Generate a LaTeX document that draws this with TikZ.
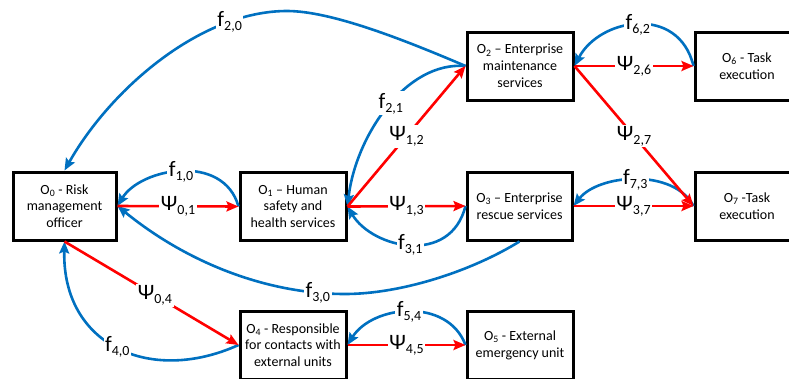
\documentclass[tikz,border=0pt]{standalone}
\usepackage{fontspec}
\setmainfont{Carlito}
\usetikzlibrary{arrows.meta}
\definecolor{fblue}{HTML}{0070C0}
\definecolor{pred}{HTML}{FF0000}
\newcommand\flab[2]{#1\raisebox{-4pt}{\fontsize{14}{14}\selectfont #2}}
\begin{document}
\begin{tikzpicture}[x=1pt,y=-1pt,
 box/.style={draw=black,line width=3pt,minimum width=106pt,minimum height=68pt,align=center,font=\fontsize{14}{16.8}\selectfont,inner sep=0pt},
 psi/.style={draw=pred,line width=2.6pt,-{Stealth[length=12pt,width=10pt,inset=2pt]}},
 fl/.style={draw=fblue,line width=2.6pt,-{Stealth[length=12pt,width=10pt,inset=2pt]}},
 lab/.style={fill=white,text=black,inner sep=1.5pt,font=\fontsize{22}{22}\selectfont},
]
\useasboundingbox (0,0) rectangle (789,378);
\clip (0,0) rectangle (789,378);

\node[box,minimum width=103pt] (O0) at (64.5,206) {O\textsubscript{0} - Risk\\management\\officer};
\node[box] (O1) at (293,206.5) {O\textsubscript{1} – Human\\safety and\\health services};
\node[box] (O2) at (520,66) {O\textsubscript{2} – Enterprise\\maintenance\\services};
\node[box,minimum width=104pt] (O6) at (747,66) {O\textsubscript{6} - Task\\execution};
\node[box,minimum width=105pt] (O3) at (519.5,206) {O\textsubscript{3} – Enterprise\\rescue services};
\node[box,minimum width=104pt] (O7) at (747,206) {O\textsubscript{7} -Task\\execution};
\node[box] (O4) at (293,345) {O\textsubscript{4} - Responsible\\for contacts with\\external units};
\node[box] (O5) at (520,345) {O\textsubscript{5} - External\\emergency unit};

\coordinate (top20) at (287,11);
\coordinate (low30) at (345,294);

% blue feedback curves
\draw[fl] (O1.west) .. controls +(-15,-54) and +(23,-38) .. node[lab]{\flab{f}{1,0}} (O0.east);
\draw[fl] (O3.west) .. controls +(-15,60) and +(25,42) .. node[lab]{\flab{f}{3,1}} (O1.east);
\draw[fl] (O6.west) .. controls +(-15,-62) and +(25,-48) .. node[lab]{\flab{f}{6,2}} (O2.east);
\draw[fl] (O7.west) .. controls +(-20,-38) and +(25,-32) .. node[lab]{\flab{f}{7,3}} (O3.east);
\draw[fl] (O5.west) .. controls +(-18,-48) and +(25,-40) .. node[lab]{\flab{f}{5,4}} (O4.east);
\draw[fl] (O2.west) .. controls +(-60,-5) and +(8,-70) .. node[lab,pos=0.47]{\flab{f}{2,1}} (O1.east);
\draw[fl] (O2.west) .. controls (400,38) and (330,11) .. (top20) .. controls (200,11) and (110,90) .. node[lab,pos=0.22]{\flab{f}{2,0}} (O0.north);
\draw[fl] (O3.south) .. controls (470,272) and (400,294) .. (low30) .. controls (270,294) and (190,265) .. node[lab,pos=0.12]{\flab{f}{3,0}} (O0.east);
\draw[fl] (O4.west) .. controls (150,385) and (62,345) .. node[lab]{\flab{f}{4,0}} (O0.south);

% red arrows
\draw[psi] (O0.east) -- node[lab]{\flab{Ψ}{0,1}} (O1.west);
\draw[psi] (O1.east) -- node[lab]{\flab{Ψ}{1,3}} (O3.west);
\draw[psi] (O1.east) -- node[lab]{\flab{Ψ}{1,2}} (O2.west);
\draw[psi] (O2.east) -- node[lab]{\flab{Ψ}{2,6}} (O6.west);
\draw[psi] (O2.east) -- node[lab]{\flab{Ψ}{2,7}} (O7.west);
\draw[psi] (O3.east) -- node[lab]{\flab{Ψ}{3,7}} (O7.west);
\draw[psi] (O0.south) -- node[lab,pos=0.52]{\flab{Ψ}{0,4}} (O4.west);
\draw[psi] (O4.east) -- node[lab]{\flab{Ψ}{4,5}} (O5.west);
\end{tikzpicture}
\end{document}
